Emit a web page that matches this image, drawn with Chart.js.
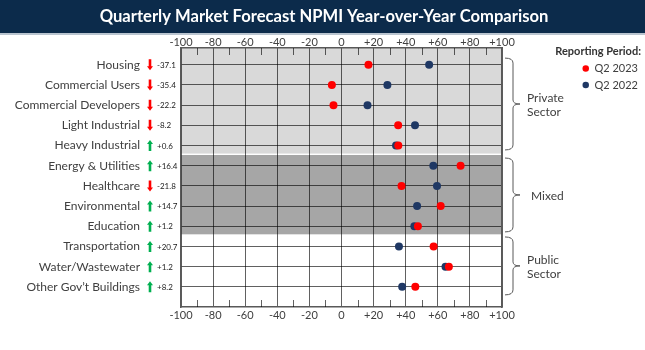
<!DOCTYPE html>
<html>
<head>
<meta charset="utf-8">
<script src="https://cdn.jsdelivr.net/npm/chart.js@4.4.0/dist/chart.umd.min.js"></script>
<style>
  html, body { margin: 0; padding: 0; background: #fff; }
  #wrap { width: 645px; height: 350px; position: relative; }
</style>
</head>
<body>
<div id="wrap"><canvas id="chart"></canvas></div>
<script>
// ======================================================
// --- Datos ---
// ======================================================
const sectors = [
  "Housing", "Commercial Users", "Commercial Developers", "Light Industrial",
  "Heavy Industrial", "Energy & Utilities", "Healthcare", "Environmental",
  "Education", "Transportation", "Water/Wastewater", "Other Gov\u2019t Buildings"
];
const changes = ["-37.1", "-35.4", "-22.2", "-8.2", "+0.6", "+16.4", "-21.8", "+14.7", "+1.2", "+20.7", "+1.2", "+8.2"];
const q2_2023 = [16.8, -6.0, -5.0, 35.3, 35.4, 74.2, 37.4, 61.8, 47.6, 57.4, 66.9, 46.0];
const q2_2022 = [54.6, 28.6, 16.2, 45.8, 34.0, 57.2, 59.5, 47.1, 45.4, 35.8, 64.8, 37.8];
const xTicks = [-100, -80, -60, -40, -20, 0, 20, 40, 60, 80, 100];
const minorTicks = [-90, -70, -50, -30, -10, 10, 30, 50, 70, 90];
const groups = [
  { name: ["Private", "Sector"], first: 0, last: 4 },
  { name: ["Mixed"], first: 5, last: 8 },
  { name: ["Public", "Sector"], first: 9, last: 11 }
];
const legendTitle = "Reporting Period:";

// ======================================================
// --- Estilos ---
// ======================================================
const bandColors = ["#d9d9d9", "#a6a6a6", "#ffffff"];
const bracketPad = [[0.33, 0.22], [0.38, 0.28], [0.47, 0.4]];
const textColor = "#404040";
const gridColor = "rgba(0,0,0,0.62)";
const RED = "#ff0000";
const NAVY = "#1f3864";
const GREEN = "#00b050";

Chart.defaults.font.family = "Lato";

const fmtX = (v) => (v > 0 ? "+" + v : String(v));

// ======================================================
// --- Plugin: bandas, llaves, flechas ---
// ======================================================
const decorPlugin = {
  id: "decor",
  beforeDraw(chart) {
    const { ctx, chartArea: a, scales: { y } } = chart;
    ctx.save();
    ctx.fillStyle = "#0c2b4b";
    ctx.fillRect(0, 0, chart.width, 33);
    ctx.fillStyle = "#b9c4cf";
    ctx.fillRect(0, 33, chart.width, 2);

    groups.forEach((g, i) => {
      const top = i === 0 ? a.top : y.getPixelForValue(g.first - 0.53);
      const bot = i === groups.length - 1 ? a.bottom : y.getPixelForValue(g.last + 0.4);
      ctx.fillStyle = bandColors[i];
      ctx.fillRect(a.left, top, a.right - a.left, bot - top);
    });
    ctx.restore();
  },
  beforeDatasetsDraw(chart) {
    const { ctx, chartArea: a, scales: { x } } = chart;
    ctx.save();
    ctx.strokeStyle = gridColor;
    ctx.lineWidth = 1;
    minorTicks.forEach((v) => {
      const px = Math.round(x.getPixelForValue(v)) + 0.5;
      ctx.beginPath();
      ctx.moveTo(px, a.top);
      ctx.lineTo(px, a.top + 7);
      ctx.moveTo(px, a.bottom);
      ctx.lineTo(px, a.bottom - 7);
      ctx.stroke();
    });
    ctx.restore();
  },
  afterDraw(chart) {
    const { ctx, chartArea: a, scales: { y } } = chart;
    ctx.save();

    // titulo de la leyenda
    ctx.fillStyle = "#333333";
    ctx.font = "bold 11px Lato";
    ctx.textAlign = "right";
    ctx.textBaseline = "middle";
    ctx.fillText(legendTitle, 641, 51);

    // flechas + cambio
    sectors.forEach((s, i) => {
      const cy = y.getPixelForValue(i);
      const up = changes[i].startsWith("+");
      const cx = 150;
      ctx.fillStyle = up ? GREEN : RED;
      const d = up ? -1 : 1;
      ctx.beginPath();
      ctx.moveTo(cx - 1.3, cy - d * 5.5);
      ctx.lineTo(cx + 1.3, cy - d * 5.5);
      ctx.lineTo(cx + 1.3, cy + d * 1.5);
      ctx.lineTo(cx + 3, cy + d * 1.5);
      ctx.lineTo(cx, cy + d * 5.5);
      ctx.lineTo(cx - 3, cy + d * 1.5);
      ctx.lineTo(cx - 1.3, cy + d * 1.5);
      ctx.closePath();
      ctx.fill();

      ctx.fillStyle = "#1a1a1a";
      ctx.font = "8px Lato";
      ctx.textAlign = "left";
      ctx.textBaseline = "middle";
      ctx.fillText(changes[i], 157, cy + 0.5);
    });

    // llaves de grupos
    ctx.strokeStyle = "#595959";
    ctx.lineWidth = 1;
    ctx.fillStyle = textColor;
    ctx.font = "12px Lato";
    ctx.textAlign = "left";
    ctx.textBaseline = "middle";
    groups.forEach((g, i) => {
      const yT = y.getPixelForValue(g.first - bracketPad[i][0]);
      const yB = y.getPixelForValue(g.last + bracketPad[i][1]);
      const yM = (yT + yB) / 2;
      const x0 = a.right + 3, x1 = a.right + 11, x2 = a.right + 18;
      ctx.beginPath();
      ctx.moveTo(x0, yT);
      ctx.quadraticCurveTo(x1, yT, x1, yT + 5);
      ctx.lineTo(x1, yM - 4);
      ctx.quadraticCurveTo(x1, yM, x2, yM);
      ctx.quadraticCurveTo(x1, yM, x1, yM + 4);
      ctx.lineTo(x1, yB - 5);
      ctx.quadraticCurveTo(x1, yB, x0, yB);
      ctx.stroke();

      const lx = g.name.length === 1 ? a.right + 29 : a.right + 25;
      const lh = 14.5;
      g.name.forEach((t, k) => {
        ctx.fillText(t, lx, yM + 1 + (k - (g.name.length - 1) / 2) * lh);
      });
    });
    ctx.restore();
  }
};

// ======================================================
// --- Gráfico ---
// ======================================================
const PAD_RIGHT = -3;

const xAxisBase = {
  type: "linear",
  min: -100,
  max: 100,
  afterBuildTicks: (s) => { s.ticks = xTicks.map((v) => ({ value: v })); },
  ticks: { callback: fmtX, color: textColor, font: { size: 11 }, padding: 2, maxRotation: 0 },
  border: { color: "#595959", width: 1.5 }
};

new Chart(document.getElementById("chart"), {
  type: "scatter",
  data: {
    datasets: [
      {
        label: "Q2 2023",
        data: q2_2023.map((v, i) => ({ x: v, y: i })),
        backgroundColor: RED,
        borderColor: RED,
        borderWidth: 0,
        pointRadius: 4
      },
      {
        label: "Q2 2022",
        data: q2_2022.map((v, i) => ({ x: v, y: i })),
        backgroundColor: NAVY,
        borderColor: NAVY,
        borderWidth: 0,
        pointRadius: 4
      }
    ]
  },
  options: {
    responsive: true,
    maintainAspectRatio: false,
    animation: false,
    events: [],
    layout: { padding: { left: 0, right: PAD_RIGHT, top: 0, bottom: 0 } },
    plugins: {
      title: {
        display: true,
        text: "Quarterly Market Forecast NPMI Year-over-Year Comparison",
        color: "#ffffff",
        font: { size: 16.6, weight: "bold" },
        padding: { top: 7, bottom: 6 }
      },
      legend: {
        position: "right",
        align: "start",
        title: {
          display: true,
          text: "",
          font: { size: 11, lineHeight: 1 },
          padding: { top: 46.5, bottom: 0 }
        },
        labels: {
          usePointStyle: true,
          pointStyle: "circle",
          pointStyleWidth: 6.5,
          boxHeight: 4.6,
          color: textColor,
          font: { size: 11 },
          padding: 5.5
        }
      },
      tooltip: { enabled: false }
    },
    scales: {
      x: {
        ...xAxisBase,
        position: "bottom",
        grid: { color: gridColor, drawTicks: false },
        afterFit: (s) => { s.height = 43; }
      },
      x2: {
        ...xAxisBase,
        position: "top",
        ticks: { ...xAxisBase.ticks, padding: -1 },
        grid: { display: false, drawTicks: false },
        afterFit: (s) => { s.height = 48 - s.chart.titleBlock.height; }
      },
      y: {
        type: "linear",
        reverse: true,
        min: -0.83,
        max: 12,
        afterBuildTicks: (s) => { s.ticks = sectors.map((_, i) => ({ value: i })); },
        ticks: { callback: (v) => sectors[v], color: textColor, font: { size: 12 }, padding: 41 },
        grid: { color: gridColor, drawTicks: false },
        border: { color: "#595959", width: 1.5 },
        afterFit: (s) => {
          s.width = 181;
          s.paddingTop = 0;
          s.paddingBottom = 0;
        }
      },
      y2: {
        type: "linear",
        position: "right",
        ticks: { display: false },
        grid: { display: false, drawTicks: false },
        border: { color: "#595959", width: 1.5 },
        afterFit: (s) => { s.width = s.chart.width - PAD_RIGHT - s.chart.legend.width - 502; }
      }
    }
  },
  plugins: [decorPlugin]
});
</script>
</body>
</html>
